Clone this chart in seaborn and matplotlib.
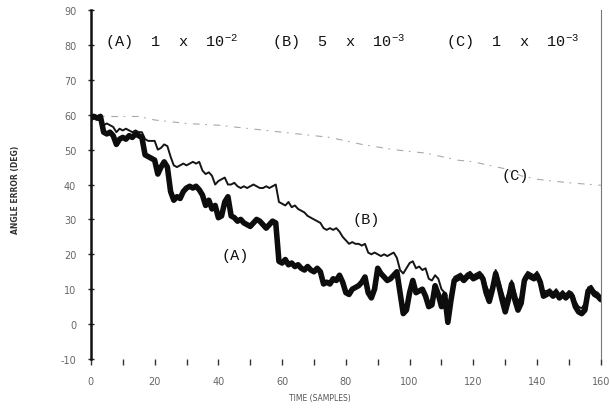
import matplotlib
matplotlib.use("Agg")
import matplotlib.pyplot as plt
import pandas as pd
import seaborn as sns

# Sample index (time axis)
time = list(range(0, 161))

# (A) largest step size: angle error in degrees
err_a = [
    59.0, 59.5, 59.0, 59.5, 55.0, 54.5, 55.0, 54.0, 51.5, 53.0,
    53.5, 53.0, 54.0, 53.5, 54.5, 54.0, 53.5, 48.5, 48.0, 47.5,
    47.0, 43.0, 45.0, 46.5, 45.0, 38.0, 35.5, 36.5, 36.0, 38.0,
    39.0, 39.5, 39.0, 39.5, 38.5, 37.0, 34.0, 35.5, 33.0, 34.0,
    30.5, 31.0, 35.0, 36.5, 31.0, 30.5, 29.5, 30.0, 29.0, 28.5,
    28.0, 29.0, 30.0, 29.5, 28.5, 27.5, 28.5, 29.5, 29.0, 18.0,
    17.5, 18.5, 17.0, 17.5, 16.5, 17.0, 16.0, 15.5, 16.5, 15.5,
    15.0, 16.0, 15.0, 11.5, 12.0, 11.5, 13.0, 12.5, 14.0, 12.0,
    9.0, 8.5, 10.0, 10.5, 11.0, 12.0, 13.5, 9.0, 7.5, 10.0,
    16.0, 14.5, 13.5, 12.5, 13.0, 14.0, 15.0, 9.0, 3.0, 4.0,
    9.0, 12.5, 9.0, 9.5, 10.0, 8.0, 5.0, 5.5, 11.0, 8.5,
    5.0, 8.5, 0.5, 7.0, 12.5, 13.0, 13.5, 12.5, 13.5, 14.0,
    13.0, 13.5, 14.0, 13.0, 9.0, 6.5, 10.0, 14.5, 11.0, 7.0,
    3.5, 7.0, 11.5, 7.0, 4.0, 6.0, 12.5, 14.0, 13.5, 13.0,
    14.0, 12.0, 8.0, 8.5, 9.0, 8.0, 9.0, 7.5, 8.5, 7.5,
    8.5, 8.0, 5.0, 3.5, 3.0, 4.0, 9.5, 10.0, 8.5, 8.0,
    7.0,
]

# (B) intermediate step size
err_b = [
    60.0, 60.0, 59.5, 60.0, 57.0, 57.5, 57.0, 56.5, 55.0, 56.0,
    55.5, 56.0, 55.5, 55.0, 55.5, 55.0, 55.0, 53.0, 52.5, 52.5,
    52.5, 50.0, 50.5, 51.5, 51.0, 48.0, 45.5, 45.0, 45.5, 46.0,
    45.5, 46.0, 46.5, 46.0, 46.5, 44.0, 43.0, 43.5, 42.5, 40.0,
    41.0, 41.5, 42.0, 40.0, 40.0, 40.5, 39.5, 39.0, 39.5, 39.0,
    39.5, 40.0, 39.5, 39.0, 39.0, 39.5, 39.0, 39.5, 40.0, 35.0,
    34.5, 34.0, 35.0, 33.5, 34.0, 33.0, 32.5, 32.0, 31.0, 30.5,
    30.0, 29.5, 29.0, 27.5, 27.0, 27.5, 27.0, 27.5, 26.5, 25.0,
    24.0, 23.0, 23.5, 23.0, 23.0, 22.5, 23.0, 20.5, 20.0, 20.5,
    20.0, 19.5, 20.0, 19.5, 20.0, 20.5, 19.0, 15.5, 14.5, 16.0,
    17.5, 18.0, 16.0, 16.5, 15.5, 16.0, 13.0, 12.5, 14.0, 13.0,
    10.0, 9.0, 4.0, 9.0, 13.5, 14.0, 14.5, 13.5, 14.5, 15.0,
    14.0, 14.5, 15.0, 14.0, 11.0, 9.0, 11.5, 15.5, 12.5, 9.5,
    6.5, 9.0, 12.5, 9.5, 6.5, 8.0, 13.5, 15.0, 14.5, 14.0,
    15.0, 13.0, 9.5, 9.5, 10.0, 9.0, 10.0, 8.5, 9.5, 8.5,
    9.5, 9.0, 6.5, 5.0, 4.5, 6.0, 10.5, 11.0, 9.5, 9.0,
    8.0,
]

# (C) smallest step size, slowly decaying
c_time = [0, 5, 15, 20, 30, 40, 50, 55, 65, 75, 85, 95, 100, 105,
          110, 115, 120, 125, 130, 135, 140, 145, 150, 157, 160]
err_c = [60.0, 59.5, 59.5, 58.5, 57.5, 57.0, 56.0, 55.5, 54.5, 53.5,
         51.5, 50.0, 49.5, 49.0, 48.0, 47.0, 46.5, 45.5, 44.5, 42.5,
         41.5, 41.0, 40.5, 40.0, 39.8]

x_major = [0, 20, 40, 60, 80, 100, 120, 140, 160]
x_minor = list(range(0, 161, 10))
y_ticks = [-10, 0, 10, 20, 30, 40, 50, 60, 70, 80, 90]

header = ["(A)  1  x  10$^{-2}$", "(B)  5  x  10$^{-3}$", "(C)  1  x  10$^{-3}$"]
header_x = [4.4, 56.9, 111.3]
curve_tags = ["(A)", "(B)", "(C)"]
tag_x = [45.3, 86.5, 133.0]
tag_y = [19.8, 30.0, 42.7]

sns.set_theme(style="white")
plt.rcParams["font.family"] = ["DejaVu Sans"]
plt.rcParams["mathtext.fontset"] = "custom"
plt.rcParams["mathtext.rm"] = "Liberation Mono"
plt.rcParams["mathtext.it"] = "Liberation Mono"

fig = plt.figure(figsize=(6.1, 4.1), dpi=100)
ax = fig.add_axes([0.149, 0.122, 0.836, 0.851])

df_ab = pd.DataFrame({"t": time, "a": err_a, "b": err_b})
df_c = pd.DataFrame({"t": c_time, "c": err_c})

sns.lineplot(data=df_c, x="t", y="c", ax=ax, color="#a8a8a8", lw=0.8,
             linestyle=(0, (6, 5, 1.5, 6)))
sns.lineplot(data=df_ab, x="t", y="b", ax=ax, color="#151515", lw=1.4)
sns.lineplot(data=df_ab, x="t", y="a", ax=ax, color="#0d0d0d", lw=4.0)

ax.set_xlim(0, 160)
ax.set_ylim(-10, 90)
ax.set_xticks(x_major)
ax.set_xticks(x_minor, minor=True)
ax.set_yticks(y_ticks)
ax.set_xticklabels([str(v) for v in x_major])
ax.set_yticklabels([str(v) for v in y_ticks])
ax.set_xlabel("")
ax.set_ylabel("")

ax.tick_params(axis="x", which="both", direction="out", length=4, width=1,
               color="#333333", labelsize=7, labelcolor="#666666", pad=8,
               bottom=True)
ax.tick_params(axis="y", direction="inout", length=5, width=1,
               color="#222222", labelsize=7, labelcolor="#666666", pad=8,
               left=True)

for side in ("top", "bottom"):
    ax.spines[side].set_visible(False)
ax.spines["left"].set_color("#111111")
ax.spines["left"].set_linewidth(1.8)
ax.spines["right"].set_color("#777777")
ax.spines["right"].set_linewidth(0.8)

for label, xpos in zip(header, header_x):
    ax.text(xpos, 81, label, family="Liberation Mono", fontsize=11,
            color="#111111", ha="left", va="center")
for tag, xpos, ypos in zip(curve_tags, tag_x, tag_y):
    ax.text(xpos, ypos, tag, family="Liberation Mono", fontsize=11,
            color="#111111", ha="center", va="center")

fig.text(0.025, 0.537, "ANGLE ERROR (DEG)", rotation=90, fontsize=5.5,
         fontweight="bold", color="#333333", ha="center", va="center")
fig.text(0.525, 0.029, "TIME (SAMPLES)", fontsize=5.5, color="#555555",
         ha="center", va="center")

fig.savefig("out.png", dpi=100)
